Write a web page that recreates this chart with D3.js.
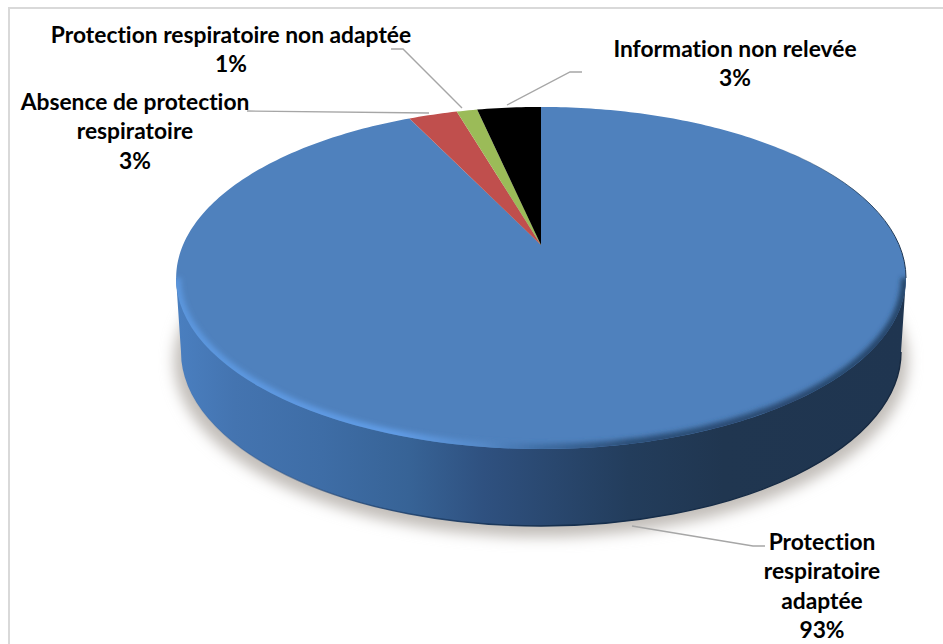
<!DOCTYPE html>
<html>
<head>
<meta charset="utf-8">
<script src="https://cdn.jsdelivr.net/npm/d3@7"></script>
<style>
  html, body { margin: 0; padding: 0; background: #fff; }
  text { font-family: Lato, 'Noto Sans', sans-serif; font-weight: 700; fill: #000; text-anchor: middle; font-variant-ligatures: none; }
</style>
</head>
<body>
<div id="pie-chart"></div>
<script>
const categories = [
  'Protection respiratoire adaptée',
  'Absence de protection respiratoire',
  'Protection respiratoire non adaptée',
  'Information non relevée',
];
const values = [92.9, 2.6, 1.1, 3.4];
const percentLabels = ['93%', '3%', '1%', '3%'];
const sliceColors = ['#4f81bd', '#c0504d', '#9bbb59', '#000000'];

const width = 943;
const height = 644;
const apex = { x: 541, y: 245 };
const persp = 0.193;
const radiusX = 358;
const radiusY = 164.7;
const topFace = { cx: 541, cy: 278, rx: 365, ry: 171 };
const baseFace = { cx: 541, cy: 352, rx: 360, ry: 174 };
const fontSize = 22.8;
const lineGap = 29.3;

// label placement, wrapped the way the original chart wraps them
const labelLayout = [
  { lines: ['Protection', 'respiratoire', 'adaptée'], x: 822, y: 550 },
  { lines: ['Absence de protection', 'respiratoire'], x: 135, y: 110 },
  { lines: ['Protection respiratoire non adaptée'], x: 231, y: 43 },
  { lines: ['Information non relevée'], x: 735, y: 57 },
];
const leaderLines = [
  [[632, 526], [753, 546], [765, 546]],
  [[247, 111], [429, 113]],
  [[391, 49], [403, 49], [462, 108]],
  [[582, 72], [570, 72], [507, 105]],
];

const svg = d3
  .select('#pie-chart')
  .append('svg')
  .attr('width', width)
  .attr('height', height)
  .attr('viewBox', [0, 0, width, height])
  .style('display', 'block');

const defs = svg.append('defs');

const addGradient = (id, stops) => {
  const grad = defs
    .append('linearGradient')
    .attr('id', id)
    .attr('gradientUnits', 'userSpaceOnUse')
    .attr('x1', topFace.cx - topFace.rx)
    .attr('x2', topFace.cx + topFace.rx)
    .attr('y1', 0)
    .attr('y2', 0);
  stops.forEach(([offset, color, opacity]) => {
    grad
      .append('stop')
      .attr('offset', offset)
      .attr('stop-color', color)
      .attr('stop-opacity', opacity === undefined ? 1 : opacity);
  });
};

addGradient('side', [
  [0, '#4a7fc0'],
  [0.08, '#4474b0'],
  [0.2, '#3e6da6'],
  [0.32, '#376396'],
  [0.42, '#2f5180'],
  [0.52, '#29476e'],
  [0.62, '#233d5c'],
  [0.75, '#203650'],
  [1, '#1f3550'],
]);
addGradient('bevel', [
  [0, '#5b96dd'],
  [0.3, '#609ce6'],
  [0.42, '#5589c8'],
  [0.5, '#3f6da3'],
  [0.62, '#2c4f78'],
  [1, '#27466b'],
]);
addGradient('rim', [
  [0.82, '#22405f', 0],
  [0.93, '#22405f', 0.85],
  [1, '#1c3350', 1],
]);
addGradient('base-edge', [
  [0, '#2a5590', 0],
  [0.25, '#1f4474', 0.8],
  [0.5, '#16304f', 1],
  [1, '#16283f', 1],
]);

const addBlur = (id, dev) => {
  defs
    .append('filter')
    .attr('id', id)
    .attr('x', '-10%')
    .attr('y', '-10%')
    .attr('width', '120%')
    .attr('height', '120%')
    .append('feGaussianBlur')
    .attr('stdDeviation', dev);
};
addBlur('shadow-blur', 7);
addBlur('bevel-blur', 2.6);
addBlur('soft', 0.4);

defs
  .append('clipPath')
  .attr('id', 'top-clip')
  .append('ellipse')
  .attr('cx', topFace.cx)
  .attr('cy', topFace.cy)
  .attr('rx', topFace.rx)
  .attr('ry', topFace.ry);

// chart frame, only the top and left edges are inside the picture
svg
  .append('path')
  .attr('d', d3.line()([[9, height], [9, 8], [width, 8]]))
  .attr('fill', 'none')
  .attr('stroke', '#d9d9d9')
  .attr('stroke-width', 2);

// shadow under the disc
svg
  .append('ellipse')
  .attr('cx', baseFace.cx)
  .attr('cy', baseFace.cy + 9)
  .attr('rx', baseFace.rx + 7)
  .attr('ry', baseFace.ry + 2)
  .attr('fill', '#c2beb9')
  .attr('filter', 'url(#shadow-blur)');

// side of the disc
const baseArc =
  `M${baseFace.cx - baseFace.rx},${baseFace.cy}` +
  `A${baseFace.rx},${baseFace.ry} 0 0 0 ${baseFace.cx + baseFace.rx},${baseFace.cy}`;
svg
  .append('path')
  .attr(
    'd',
    `M${topFace.cx - topFace.rx},${topFace.cy}L` +
      baseArc.slice(1) +
      `L${topFace.cx + topFace.rx},${topFace.cy}Z`
  )
  .attr('fill', 'url(#side)');
svg
  .append('path')
  .attr('d', baseArc)
  .attr('fill', 'none')
  .attr('stroke', 'url(#base-edge)')
  .attr('stroke-width', 1.4);

// slices: d3.pie angles projected on the tilted disc
const pie = d3.pie().sort(null).value((d) => d);
const project = (angle, r) => {
  const u = r * Math.sin(angle);
  const v = r * Math.cos(angle);
  const w = 1 + persp * v;
  return [apex.x + (radiusX * u) / w, apex.y - (radiusY * v) / w];
};
const sliceLine = d3.line();
const slicePoints = (d) => {
  const steps = Math.max(2, Math.ceil((d.endAngle - d.startAngle) * 60));
  const rim = d3
    .range(steps + 1)
    .map((i) =>
      project(d.startAngle + ((d.endAngle - d.startAngle) * i) / steps, 1)
    );
  return [[apex.x, apex.y], ...rim];
};

const faces = svg.append('g').attr('filter', 'url(#soft)');
faces
  .selectAll('path')
  .data(pie(values))
  .enter()
  .append('path')
  .attr('d', (d) => sliceLine(slicePoints(d)) + 'Z')
  .attr('fill', (d, i) => sliceColors[i]);

// bevel between the face and the side, only on the front half
const frontArc =
  `M${topFace.cx - topFace.rx},${topFace.cy}` +
  `A${topFace.rx},${topFace.ry} 0 0 0 ${topFace.cx + topFace.rx},${topFace.cy}`;
svg
  .append('g')
  .attr('clip-path', 'url(#top-clip)')
  .append('path')
  .attr('d', frontArc)
  .attr('fill', 'none')
  .attr('stroke', 'url(#bevel)')
  .attr('stroke-width', 10)
  .attr('filter', 'url(#bevel-blur)');

// dark rim on the upper right edge
svg
  .append('path')
  .attr(
    'd',
    `M${topFace.cx},${topFace.cy - topFace.ry}` +
      `A${topFace.rx},${topFace.ry} 0 0 1 ${topFace.cx + topFace.rx},${topFace.cy}`
  )
  .attr('fill', 'none')
  .attr('stroke', 'url(#rim)')
  .attr('stroke-width', 1);

// leader lines
svg
  .append('g')
  .selectAll('path')
  .data(leaderLines)
  .enter()
  .append('path')
  .attr('d', (d) => sliceLine(d))
  .attr('fill', 'none')
  .attr('stroke', '#a6a6a6')
  .attr('stroke-width', 1.4);

// labels
const label = svg
  .append('g')
  .selectAll('text')
  .data(categories)
  .enter()
  .append('text')
  .attr('font-size', fontSize)
  .attr('aria-label', (d) => d);

label.each(function (d, i) {
  const spot = labelLayout[i];
  const rows = [...spot.lines, percentLabels[i]];
  d3.select(this)
    .selectAll('tspan')
    .data(rows)
    .enter()
    .append('tspan')
    .attr('x', spot.x)
    .attr('y', (row, j) => spot.y + j * lineGap)
    .text((row) => row);
});
</script>
</body>
</html>
